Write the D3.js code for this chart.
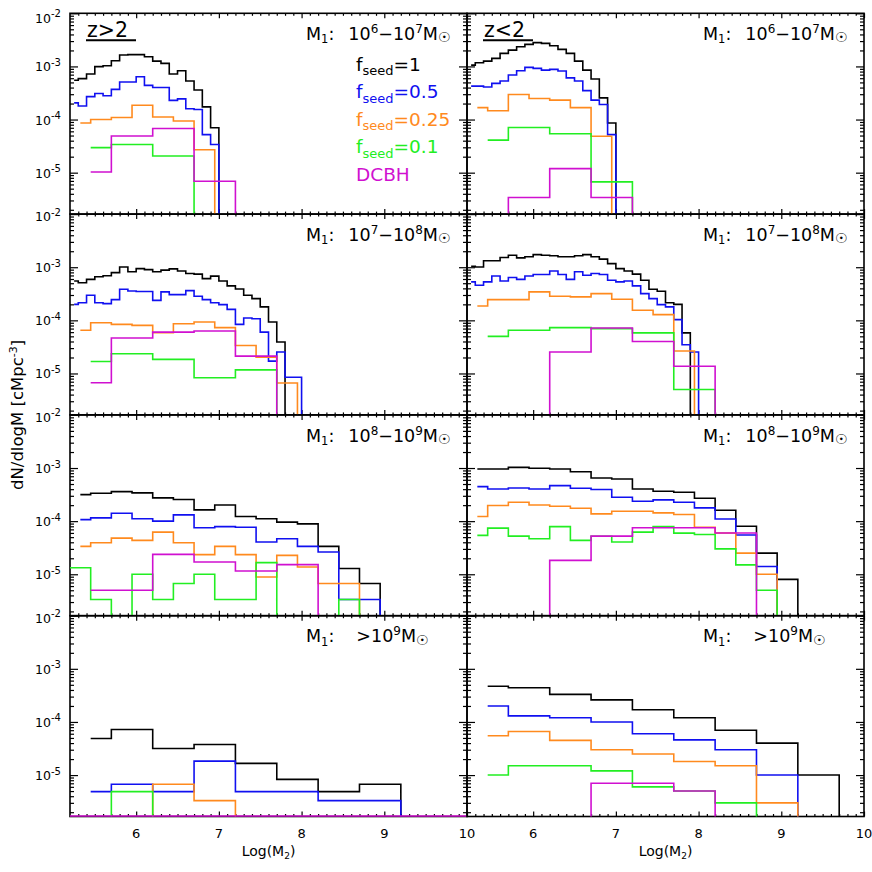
<!DOCTYPE html>
<html>
<head>
<meta charset="utf-8">
<script src="https://cdn.jsdelivr.net/npm/d3@7"></script>
<style>
  body { margin: 0; background: #fff; }
  text { font-family: "DejaVu Sans", sans-serif; fill: #000; }
</style>
</head>
<body>
<svg id="chart" width="872" height="872"></svg>
<script>
// axis ranges
const xDomain = [5.2, 10];
const yDomain = [1.66e-6, 1e-2];
const xMajor = [6, 7, 8, 9, 10];
const yMajor = [1e-5, 1e-4, 1e-3, 1e-2];
const zLabels = ["z>2", "z<2"];
const m1Ranges = [[6, 7], [7, 8], [8, 9], [9, null]];
const seedLabels = ["1", "0.5", "0.25", "0.1"];
const seriesColors = ["#000000", "#1010f0", "#ff8a1e", "#22ee22", "#d010d0"];

// each series: first bin centre c0, bin width w, values v (0 = empty bin)
// order: fseed=1, 0.5, 0.25, 0.1, DCBH
const hiM6 = [
  {c0: 5.25, w: 0.1, v: [5.5e-4, 5.9e-4, 7.2e-4, 9.9e-4, 1.03e-3, 1.28e-3, 1.64e-3, 1.67e-3, 1.67e-3, 1.52e-3, 1.26e-3, 1.14e-3, 7.2e-4, 8.3e-4, 5.3e-4, 3.6e-4, 1.73e-4, 7.0e-5, 0]},
  {c0: 5.25, w: 0.1, v: [2.06e-4, 1.8e-4, 2.7e-4, 3.1e-4, 2.8e-4, 3.7e-4, 5.1e-4, 5.1e-4, 6.4e-4, 4.4e-4, 4.0e-4, 4.0e-4, 2.3e-4, 2.45e-4, 1.6e-4, 1.55e-4, 5.2e-5, 3.4e-5, 0]},
  {c0: 5.325, w: 0.25, v: [8.6e-5, 1.0e-4, 1.09e-4, 1.86e-4, 1.12e-4, 9.4e-5, 2.7e-5, 0]},
  {c0: 5.45, w: 0.5, v: [2.96e-5, 3.4e-5, 2.06e-5, 0]},
  {c0: 5.45, w: 0.5, v: [1.03e-5, 4.9e-5, 6.8e-5, 6.9e-6, 0]}
];
const loM6 = [
  {c0: 5.25, w: 0.1, v: [1.06e-3, 1.17e-3, 1.26e-3, 1.42e-3, 1.76e-3, 2.03e-3, 2.35e-3, 2.6e-3, 2.8e-3, 2.72e-3, 2.45e-3, 2.09e-3, 1.76e-3, 1.26e-3, 8.5e-4, 5.8e-4, 2.56e-4, 8.6e-5, 0]},
  {c0: 5.25, w: 0.1, v: [4.25e-4, 4.25e-4, 4.1e-4, 4.8e-4, 5.3e-4, 6.9e-4, 8.3e-4, 9.6e-4, 9.2e-4, 8.5e-4, 8.8e-4, 8.2e-4, 6.1e-4, 5.3e-4, 3.5e-4, 2.32e-4, 1.92e-4, 5.2e-5, 0]},
  {c0: 5.325, w: 0.25, v: [1.68e-4, 1.46e-4, 2.96e-4, 2.49e-4, 2.32e-4, 1.68e-4, 4.85e-5, 0]},
  {c0: 5.45, w: 0.5, v: [4.1e-5, 7.1e-5, 5.4e-5, 6.7e-6, 0]},
  {c0: 5.45, w: 0.5, v: [0, 3.4e-6, 1.19e-5, 3.4e-6, 0]}
];
const hiM7 = [
  {c0: 5.25, w: 0.1, v: [5.5e-4, 5.1e-4, 5.9e-4, 6.6e-4, 6.9e-4, 7.9e-4, 1.01e-3, 8.2e-4, 9.4e-4, 9.0e-4, 8.2e-4, 8.8e-4, 9.3e-4, 8.5e-4, 7.6e-4, 7.4e-4, 6.1e-4, 6.8e-4, 5.5e-4, 4.45e-4, 3.9e-4, 2.96e-4, 2.56e-4, 1.79e-4, 9.3e-5, 3.9e-5, 0]},
  {c0: 5.25, w: 0.1, v: [2.0e-4, 2.15e-4, 2.96e-4, 2.15e-4, 2.06e-4, 2.45e-4, 3.85e-4, 3.57e-4, 3.5e-4, 3.5e-4, 2.38e-4, 3.43e-4, 3.05e-4, 3.05e-4, 3.63e-4, 2.84e-4, 2.45e-4, 2.15e-4, 1.98e-4, 1.61e-4, 8.4e-5, 1.11e-4, 1.07e-4, 6.0e-5, 1.71e-5, 2.53e-5, 8.5e-6, 8.5e-6, 0]},
  {c0: 5.325, w: 0.25, v: [6.5e-5, 9.0e-5, 8.4e-5, 8.05e-5, 5.85e-5, 8.65e-5, 9.3e-5, 7.3e-5, 3.37e-5, 2.03e-5, 6.6e-6, 0]},
  {c0: 5.45, w: 0.5, v: [1.68e-5, 2.35e-5, 1.84e-5, 8.3e-6, 1.17e-5, 0]},
  {c0: 5.45, w: 0.5, v: [6.7e-6, 4.65e-5, 6.0e-5, 6.3e-5, 2.12e-5, 0]}
];
const loM7 = [
  {c0: 5.25, w: 0.1, v: [1.045e-3, 1.01e-3, 1.32e-3, 1.32e-3, 1.52e-3, 1.68e-3, 1.50e-3, 1.57e-3, 1.73e-3, 1.68e-3, 1.64e-3, 1.57e-3, 1.57e-3, 1.64e-3, 1.73e-3, 1.57e-3, 1.42e-3, 1.17e-3, 9.4e-4, 8.5e-4, 7.4e-4, 5.7e-4, 3.85e-4, 3.52e-4, 2.15e-4, 2.0e-4, 5.8e-5, 0]},
  {c0: 5.25, w: 0.1, v: [5.3e-4, 4.57e-4, 5.3e-4, 6.85e-4, 5.5e-4, 6.4e-4, 5.9e-4, 6.85e-4, 7.3e-4, 7.3e-4, 8.5e-4, 7.3e-4, 5.9e-4, 8.2e-4, 7.06e-4, 7.6e-4, 7.3e-4, 5.7e-4, 5.3e-4, 5.5e-4, 4.45e-4, 3.19e-4, 2.56e-4, 1.98e-4, 1.79e-4, 1.03e-4, 3.47e-5, 2.53e-5, 0]},
  {c0: 5.325, w: 0.25, v: [1.86e-4, 2.45e-4, 2.45e-4, 3.43e-4, 2.84e-4, 2.76e-4, 3.19e-4, 2.49e-4, 1.55e-4, 1.28e-4, 2.64e-5, 0]},
  {c0: 5.45, w: 0.5, v: [5.0e-5, 6.5e-5, 7.3e-5, 7.0e-5, 5.8e-5, 5.0e-6, 0]},
  {c0: 5.45, w: 0.5, v: [0, 0, 2.53e-5, 7.2e-5, 4.0e-5, 1.37e-5, 0]}
];
const hiM8 = [
  {c0: 5.325, w: 0.25, v: [3.16e-4, 3.35e-4, 3.6e-4, 3.4e-4, 2.74e-4, 2.55e-4, 1.63e-4, 2.02e-4, 1.22e-4, 1.11e-4, 9.6e-5, 8.9e-5, 3.35e-5, 1.28e-5, 6.7e-6, 0]},
  {c0: 5.325, w: 0.25, v: [1.07e-4, 1.15e-4, 1.41e-4, 1.11e-4, 1.0e-4, 1.31e-4, 7.5e-5, 7.9e-5, 7.7e-5, 4.04e-5, 4.66e-5, 3.35e-5, 2.62e-5, 3.35e-6, 3.35e-6, 0]},
  {c0: 5.325, w: 0.25, v: [3.35e-5, 3.92e-5, 4.8e-5, 4.34e-5, 6.22e-5, 3.92e-5, 2.34e-5, 3.35e-5, 2.34e-5, 8.9e-6, 2.27e-5, 1.37e-5, 6.7e-6, 6.7e-6, 0]},
  {c0: 5.075, w: 0.25, v: [1.33e-5, 1.33e-5, 3.35e-6, 0, 1.0e-5, 3.35e-6, 6.7e-6, 1.0e-5, 3.35e-6, 3.35e-6, 1.66e-5, 0, 0, 0, 3.35e-6, 0]},
  {c0: 5.45, w: 0.5, v: [5.0e-6, 5.0e-6, 2.37e-5, 1.7e-5, 1.15e-5, 1.52e-5, 0]}
];
const loM8 = [
  {c0: 5.325, w: 0.25, v: [9.6e-4, 9.6e-4, 1.03e-3, 9.9e-4, 9.6e-4, 8.5e-4, 6.5e-4, 6.2e-4, 4.04e-4, 3.65e-4, 3.5e-4, 2.7e-4, 1.6e-4, 8.0e-5, 2.5e-5, 8.0e-6, 0]},
  {c0: 5.325, w: 0.25, v: [4.47e-4, 4.04e-4, 4.2e-4, 4.04e-4, 4.67e-4, 4.16e-4, 3.93e-4, 2.82e-4, 2.37e-4, 2.51e-4, 2.27e-4, 1.78e-4, 1.1e-4, 5.5e-5, 1.4e-5, 0]},
  {c0: 5.325, w: 0.25, v: [1.22e-4, 1.97e-4, 2.27e-4, 2.02e-4, 1.91e-4, 1.75e-4, 1.37e-4, 1.54e-4, 1.54e-4, 1.43e-4, 1.33e-4, 7.7e-5, 6.0e-5, 2.5e-5, 1.0e-5, 0]},
  {c0: 5.325, w: 0.25, v: [5.4e-5, 7.4e-5, 5.23e-5, 4.66e-5, 7.9e-5, 4.34e-5, 5.2e-5, 4.04e-5, 6.2e-5, 7.9e-5, 5.96e-5, 5.6e-5, 3.0e-5, 1.5e-5, 5.0e-6, 0]},
  {c0: 5.45, w: 0.5, v: [0, 0, 1.83e-5, 5.23e-5, 7.5e-5, 7.5e-5, 6.0e-5, 0]}
];
const hiM9 = [
  {c0: 5.45, w: 0.5, v: [4.87e-5, 7.2e-5, 3.16e-5, 3.76e-5, 1.66e-5, 8.3e-6, 4.87e-6, 6.7e-6, 0]},
  {c0: 5.45, w: 0.5, v: [4.87e-6, 6.7e-6, 4.87e-6, 1.83e-5, 4.87e-6, 4.87e-6, 3.3e-6, 3.3e-6, 0]},
  {c0: 5.45, w: 0.5, v: [0, 0, 6.7e-6, 3.3e-6, 0]},
  {c0: 5.45, w: 0.5, v: [0, 4.87e-6, 0]},
  {c0: 5.45, w: 0.5, v: [0, 0, 0, 0, 0, 0, 0, 0, 0]}
];
const loM9 = [
  {c0: 5.45, w: 0.5, v: [4.7e-4, 4.4e-4, 3.3e-4, 2.6e-4, 1.7e-4, 1.2e-4, 7.0e-5, 4.0e-5, 1.0e-5, 0]},
  {c0: 5.45, w: 0.5, v: [2.0e-4, 1.3e-4, 1.2e-4, 1.0e-4, 6.0e-5, 4.6e-5, 3.0e-5, 1.0e-5, 0]},
  {c0: 5.45, w: 0.5, v: [5.5e-5, 6.6e-5, 4.5e-5, 3.0e-5, 2.5e-5, 1.8e-5, 1.5e-5, 3.0e-6, 0]},
  {c0: 5.45, w: 0.5, v: [1.0e-5, 1.5e-5, 1.5e-5, 1.2e-5, 6.0e-6, 5.0e-6, 3.0e-6, 0]},
  {c0: 5.45, w: 0.5, v: [0, 0, 0, 7.0e-6, 7.0e-6, 5.0e-6, 0]}
];
const panels = [hiM6, loM6, hiM7, loM7, hiM8, loM8, hiM9, loM9];

const svg = d3.select("#chart");
const plotLeft = 70, plotTop = 13.3;
const panelW = 397, panelH = 200.8;

const x = d3.scaleLinear().domain(xDomain).range([0, panelW]);
const y = d3.scaleLog().domain(yDomain).range([panelH, 0]);

// histogram drawn IDL psym=10 style: steps half way between bin centres
function stepPath(s) {
  const pts = s.v.map((v, i) => [x(s.c0 + i * s.w), v > 0 ? y(v) : panelH + 40]);
  return d3.line().curve(d3.curveStep)(pts);
}

const xMinor = d3.range(53, 100).filter(d => d % 10 !== 0).map(d => d / 10);
const yMinor = [];
[-6, -5, -4, -3].forEach(e => d3.range(2, 10).forEach(m => {
  const v = m * Math.pow(10, e);
  if (v > yDomain[0] && v < yDomain[1]) yMinor.push(v);
}));

svg.append("defs").append("clipPath").attr("id", "panelClip")
  .append("rect").attr("width", panelW).attr("height", panelH);

panels.forEach((series, i) => {
  const col = i % 2, row = Math.floor(i / 2);
  const g = svg.append("g")
    .attr("transform", `translate(${plotLeft + col * panelW},${plotTop + row * panelH})`);

  // ticks on all four sides, pointing inward
  const axes = [
    [d3.axisBottom(x).tickValues(xMajor).tickSize(-5), `translate(0,${panelH})`],
    [d3.axisBottom(x).tickValues(xMinor).tickSize(-2.5), `translate(0,${panelH})`],
    [d3.axisTop(x).tickValues(xMajor).tickSize(-5), null],
    [d3.axisTop(x).tickValues(xMinor).tickSize(-2.5), null],
    [d3.axisLeft(y).tickValues(yMajor).tickSize(-8), null],
    [d3.axisLeft(y).tickValues(yMinor).tickSize(-4), null],
    [d3.axisRight(y).tickValues(yMajor).tickSize(-8), `translate(${panelW},0)`],
    [d3.axisRight(y).tickValues(yMinor).tickSize(-4), `translate(${panelW},0)`]
  ];
  axes.forEach(([ax, tr]) => {
    const a = g.append("g").attr("transform", tr).call(ax.tickFormat("").tickSizeOuter(0));
    a.select(".domain").remove();
    a.selectAll("line").attr("stroke", "#000").attr("stroke-width", 1.2);
  });
  g.append("rect").attr("width", panelW).attr("height", panelH)
    .attr("fill", "none").attr("stroke", "#000").attr("stroke-width", 1.6);

  // data
  const data = g.append("g").attr("clip-path", "url(#panelClip)");
  series.forEach((s, k) => {
    if (s.v.every(v => v === 0)) {
      g.append("line")
        .attr("x1", x(xDomain[0])).attr("x2", x(xDomain[1]))
        .attr("y1", y(yDomain[0]) - 0.5).attr("y2", y(yDomain[0]) - 0.5)
        .attr("stroke", seriesColors[k]).attr("stroke-width", 1.6);
      return;
    }
    data.append("path")
      .attr("d", stepPath(s))
      .attr("fill", "none")
      .attr("stroke", seriesColors[k])
      .attr("stroke-width", 1.6);
  });

  // y tick labels on the left column (the top one sits just under its tick)
  if (col === 0) {
    yMajor.forEach(v => {
      const off = v === yDomain[1] ? (row === 0 ? 9.5 : 7) : 5;
      const t = g.append("text").attr("x", -9).attr("y", y(v) + off)
        .attr("text-anchor", "end").attr("font-size", 12.5);
      t.append("tspan").text("10");
      t.append("tspan").attr("font-size", 10).attr("dy", -5.5).text("-" + Math.round(-Math.log10(v)));
    });
  }

  // x tick labels on the bottom row
  if (row === 3) {
    xMajor.forEach(v => {
      g.append("text").attr("x", x(v)).attr("y", panelH + 21.5)
        .attr("text-anchor", "middle").attr("font-size", 13).text(v);
    });
    const xl = g.append("text").attr("x", panelW / 2).attr("y", panelH + 40)
      .attr("text-anchor", "middle").attr("font-size", 14);
    xl.append("tspan").text("Log(M");
    xl.append("tspan").attr("font-size", 9).attr("dy", 3).text("2");
    xl.append("tspan").attr("dy", -3).text(")");
  }

  // M1 range label
  const r = m1Ranges[row];
  const m = g.append("text").attr("x", 236).attr("y", 26.7).attr("font-size", 17.5);
  m.append("tspan").text("M");
  m.append("tspan").attr("font-size", 11.5).attr("dy", 3.5).text("1");
  m.append("tspan").attr("dy", -3.5).text(":");
  if (r[1] !== null) {
    m.append("tspan").attr("dx", 14).text("10");
    m.append("tspan").attr("font-size", 12).attr("dy", -7).text(r[0]);
    m.append("tspan").attr("dy", 7).text("\u221210");
    m.append("tspan").attr("font-size", 12).attr("dy", -7).text(r[1]);
    m.append("tspan").attr("dy", 7).text("M");
  } else {
    m.append("tspan").attr("dx", 22).text(">10");
    m.append("tspan").attr("font-size", 12).attr("dy", -7).text(r[0]);
    m.append("tspan").attr("dy", 7).text("M");
  }
  m.append("tspan").attr("font-size", 14).attr("dy", 2.5).text("\u2609");

  // redshift label in the top row
  if (row === 0) {
    g.append("text").attr("x", 17).attr("y", 23.4).attr("font-size", 20.5).text(zLabels[col]);
    g.append("line").attr("x1", 16).attr("x2", 66).attr("y1", 27).attr("y2", 27)
      .attr("stroke", "#000").attr("stroke-width", 2);
  }

  // legend in the first panel
  if (i === 0) {
    seriesColors.forEach((c, k) => {
      const t = g.append("text").attr("x", 286).attr("y", 57.4 + k * 27.6)
        .attr("font-size", 18.5).style("fill", c);
      if (k < 4) {
        t.append("tspan").text("f");
        t.append("tspan").attr("font-size", 13).attr("dy", 4.5).text("seed");
        t.append("tspan").attr("dy", -4.5).text("=" + seedLabels[k]);
      } else {
        t.text("DCBH");
      }
    });
  }
});

// y axis title
const yt = svg.append("text")
  .attr("transform", `translate(23,${plotTop + 2 * panelH}) rotate(-90)`)
  .attr("text-anchor", "middle").attr("font-size", 16.5);
yt.append("tspan").text("dN/dlogM [cMpc");
yt.append("tspan").attr("font-size", 11).attr("dy", -6).text("-3");
yt.append("tspan").attr("dy", 6).text("]");
</script>
</body>
</html>
